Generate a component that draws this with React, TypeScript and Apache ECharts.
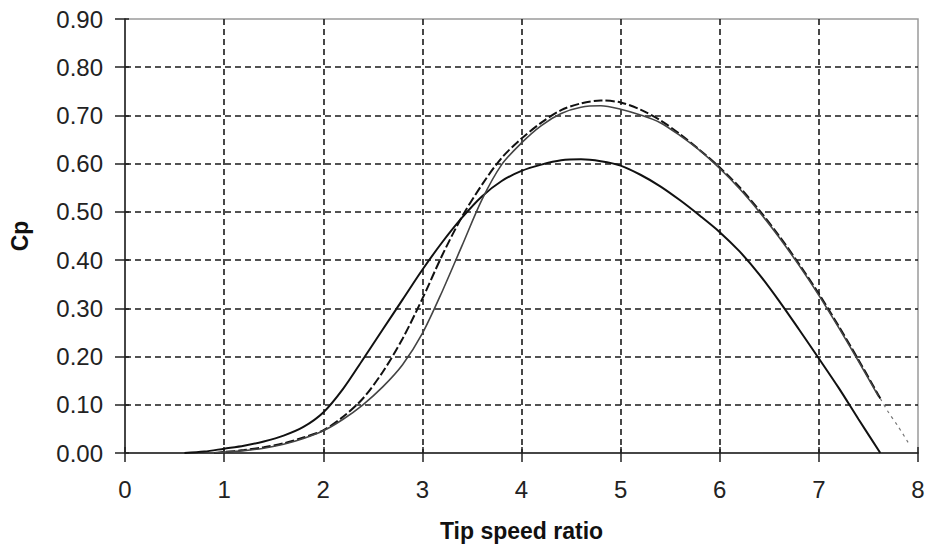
import React, { useEffect, useRef } from "react";
import * as echarts from "echarts";

// Tip speed ratio positions and Cp values
const xA = [0.6, 0.8, 1.0, 1.2, 1.4, 1.6, 1.8, 2.0, 2.2, 2.4, 2.6, 2.8, 3.0, 3.2, 3.4, 3.6, 3.8, 4.0, 4.2, 4.4, 4.6, 4.8, 5.0, 5.2, 5.4, 5.6, 5.8, 6.0, 6.2, 6.4, 6.6, 6.8, 7.0, 7.2, 7.4, 7.62];
const cpA = [0.0, 0.003, 0.009, 0.015, 0.024, 0.036, 0.054, 0.084, 0.133, 0.194, 0.256, 0.318, 0.38, 0.437, 0.488, 0.532, 0.564, 0.585, 0.598, 0.607, 0.609, 0.605, 0.596, 0.577, 0.553, 0.524, 0.492, 0.458, 0.418, 0.37, 0.315, 0.256, 0.196, 0.135, 0.07, 0.0];

const xB = [0.9, 1.0, 1.2, 1.4, 1.6, 1.8, 2.0, 2.2, 2.4, 2.6, 2.8, 3.0, 3.2, 3.4, 3.6, 3.8, 4.0, 4.2, 4.4, 4.6, 4.8, 5.0, 5.2, 5.4, 5.6, 5.8, 6.0, 6.2, 6.4, 6.6, 6.8, 7.0, 7.2, 7.4, 7.62];
const cpB = [0.0, 0.002, 0.006, 0.012, 0.02, 0.032, 0.047, 0.075, 0.113, 0.168, 0.237, 0.32, 0.41, 0.49, 0.556, 0.612, 0.652, 0.685, 0.711, 0.725, 0.731, 0.727, 0.712, 0.69, 0.661, 0.628, 0.592, 0.551, 0.503, 0.45, 0.392, 0.33, 0.263, 0.193, 0.113];

const xC = [0.9, 1.0, 1.2, 1.4, 1.6, 1.8, 2.0, 2.2, 2.4, 2.6, 2.8, 3.0, 3.2, 3.4, 3.6, 3.8, 4.0, 4.2, 4.4, 4.6, 4.8, 5.0, 5.2, 5.4, 5.6, 5.8, 6.0, 6.2, 6.4, 6.6, 6.8, 7.0, 7.2, 7.4, 7.6];
const cpC = [0.0, 0.002, 0.005, 0.01, 0.018, 0.03, 0.046, 0.07, 0.1, 0.137, 0.183, 0.248, 0.335, 0.43, 0.525, 0.598, 0.643, 0.679, 0.704, 0.717, 0.72, 0.713, 0.701, 0.685, 0.658, 0.627, 0.59, 0.548, 0.5, 0.447, 0.389, 0.327, 0.26, 0.19, 0.118];

const xTail = [7.62, 7.7, 7.8, 7.9];
const cpTail = [0.113, 0.085, 0.055, 0.022];

const xTicks = [0, 1, 2, 3, 4, 5, 6, 7, 8];
const yTicks = [0, 0.1, 0.2, 0.3, 0.4, 0.5, 0.6, 0.7, 0.8, 0.9];

const pairs = (xs: number[], ys: number[]) => xs.map((x, i) => [x, ys[i]]);

const FONT = "'Liberation Sans', Arial, sans-serif";

export default function App() {
  const ref = useRef<HTMLDivElement>(null);
  useEffect(() => {
    if (!ref.current) return;
    const chart = echarts.init(ref.current, null, { renderer: "svg" });
    chart.setOption({
      animation: false,
      backgroundColor: "#ffffff",
      grid: {
        left: 123,
        right: 10,
        top: 19,
        bottom: 98,
        show: true,
        borderColor: "#9a9a9a",
        borderWidth: 1.5,
      },
      xAxis: [
        {
          type: "value",
          min: xTicks[0],
          max: xTicks[xTicks.length - 1],
          interval: 1,
          position: "bottom",
          name: "Tip speed ratio",
          nameLocation: "middle",
          nameGap: 66,
          nameTextStyle: { fontFamily: FONT, fontWeight: "bold", fontSize: 23, color: "#111" },
          axisLine: { show: true, lineStyle: { color: "#222", width: 1.5 } },
          axisTick: { show: true, inside: false, length: 9, lineStyle: { color: "#222", width: 1.5 } },
          axisLabel: { fontFamily: FONT, fontSize: 24, color: "#222", margin: 24 },
          splitLine: {
            show: true,
            showMinLine: false,
            showMaxLine: false,
            lineStyle: { color: "#1a1a1a", width: 1.6, type: [6, 4] },
          },
        },
        {
          type: "value",
          min: xTicks[0],
          max: xTicks[xTicks.length - 1],
          interval: 1,
          position: "bottom",
          axisLine: { show: false },
          axisTick: { show: true, inside: true, length: 6, lineStyle: { color: "#222", width: 1.5 } },
          axisLabel: { show: false },
          splitLine: { show: false },
        },
      ],
      yAxis: [
        {
          type: "value",
          min: yTicks[0],
          max: yTicks[yTicks.length - 1],
          interval: 0.1,
          position: "left",
          name: "Cp",
          nameLocation: "middle",
          nameRotate: 90,
          nameGap: 94,
          nameTextStyle: { fontFamily: FONT, fontWeight: "bold", fontSize: 23, color: "#111" },
          axisLine: { show: true, lineStyle: { color: "#222", width: 1.5 } },
          axisTick: { show: true, inside: false, length: 10, lineStyle: { color: "#222", width: 1.5 } },
          axisLabel: {
            fontFamily: FONT,
            fontSize: 24,
            color: "#222",
            margin: 22,
            formatter: (v: number) => v.toFixed(2),
          },
          splitLine: {
            show: true,
            showMinLine: false,
            showMaxLine: false,
            lineStyle: { color: "#1a1a1a", width: 1.6, type: [6, 4] },
          },
        },
        {
          type: "value",
          min: yTicks[0],
          max: yTicks[yTicks.length - 1],
          interval: 0.1,
          position: "left",
          axisLine: { show: false },
          axisTick: { show: true, inside: true, length: 4, lineStyle: { color: "#222", width: 1.5 } },
          axisLabel: { show: false },
          splitLine: { show: false },
        },
      ],
      series: [
        {
          name: "A",
          type: "line",
          data: pairs(xA, cpA),
          smooth: 0.3,
          showSymbol: false,
          lineStyle: { color: "#111", width: 2 },
        },
        {
          name: "B",
          type: "line",
          data: pairs(xB, cpB),
          smooth: 0.3,
          showSymbol: false,
          lineStyle: { color: "#111", width: 2, type: [9, 3] },
        },
        {
          name: "C",
          type: "line",
          data: pairs(xC, cpC),
          smooth: 0.3,
          showSymbol: false,
          lineStyle: { color: "#444", width: 1.6 },
        },
        {
          name: "tail",
          type: "line",
          data: pairs(xTail, cpTail),
          smooth: 0.3,
          showSymbol: false,
          lineStyle: { color: "#777", width: 1.2, type: [3, 4] },
        },
      ],
    });
    return () => chart.dispose();
  }, []);
  return <div ref={ref} style={{ width: 928, height: 551, position: "absolute", left: 0, top: 0 }} />;
}
